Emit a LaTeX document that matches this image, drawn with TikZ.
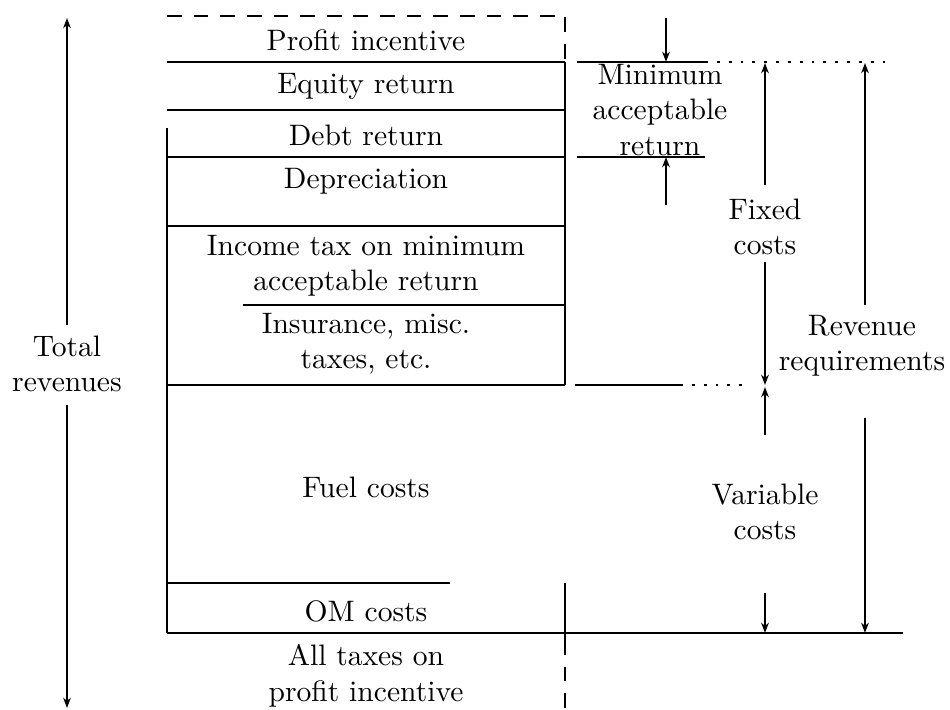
\documentclass[tikz,border=0pt]{standalone}
\usetikzlibrary{arrows.meta}
\begin{document}
\begin{tikzpicture}[x=0.338pt,y=-0.338pt,
  ln/.style={line width=0.5pt},
  dsh/.style={line width=0.5pt,dash pattern=on 5pt off 4pt},
  dtt/.style={line width=0.5pt,dash pattern=on 1pt off 3pt},
  arr/.style={line width=0.5pt,-{Stealth[length=3.5pt,width=2.6pt]}},
  lbl/.style={align=center,inner sep=0pt}]
\useasboundingbox (0,0) rectangle (950,710);
% box coordinates
\coordinate (dTL) at (167,16);  \coordinate (dTR) at (565,16);
\coordinate (a1) at (167,62);   \coordinate (b1) at (565,62);
\coordinate (a2) at (167,110);  \coordinate (b2) at (565,110);
\coordinate (a3) at (167,157);  \coordinate (b3) at (565,157);
\coordinate (a4) at (167,226);  \coordinate (b4) at (565,226);
\coordinate (a5) at (243,305);  \coordinate (b5) at (565,305);
\coordinate (a6) at (167,385);  \coordinate (b6) at (565,385);
\coordinate (a7) at (167,583);  \coordinate (b7) at (450,583);
\coordinate (a8) at (167,633);  \coordinate (b8) at (903,633);
\coordinate (lTop) at (167,128);
\coordinate (rOM) at (565,583); \coordinate (rOMb) at (565,640);
\coordinate (rBot) at (565,710);
% dashed profit incentive box
\draw[dsh] (dTL) -- (dTR) -- (b1);
% horizontal lines
\draw[ln] (a1) -- (b1);
\draw[ln] (a2) -- (b2);
\draw[ln] (a3) -- (b3);
\draw[ln] (a4) -- (b4);
\draw[ln] (a5) -- (b5);
\draw[ln] (a6) -- (b6);
\draw[ln] (a7) -- (b7);
\draw[ln] (a8) -- (b8);
% verticals
\draw[ln] (lTop) -- (a8);
\draw[ln] (b1) -- (b6);
\draw[ln] (rOM) -- (rOMb);
\draw[dsh] (rOMb) -- (rBot);
% right extension lines
\coordinate (m1a) at (577,62);  \coordinate (m1b) at (705,62);  \coordinate (m1c) at (890,62);
\coordinate (m3a) at (577,157); \coordinate (m3b) at (705,157);
\coordinate (m6a) at (575,385); \coordinate (m6b) at (680,385); \coordinate (m6c) at (745,385);
\draw[ln] (m1a) -- (m1b);
\draw[dtt] (m1b) -- (m1c);
\draw[ln] (m3a) -- (m3b);
\draw[ln] (m6a) -- (m6b);
\draw[dtt] (m6b) -- (m6c);
% labels in box
\node[lbl] (pi) at (366,40) {Profit incentive};
\node[lbl] (er) at (366,86) {Equity return};
\node[lbl] (dr) at (366,135) {Debt return};
\node[lbl] (dp) at (366,181) {Depreciation};
\node[lbl] (it) at (366,266) {Income tax on minimum\\acceptable return};
\node[lbl] (in) at (366,344) {Insurance, misc.\\taxes, etc.};
\node[lbl] (fc) at (366,487) {Fuel costs};
\node[lbl] (om) at (366,611) {OM costs};
\node[lbl] (at) at (366,676) {All taxes on\\profit incentive};
% right labels
\node[lbl] (mar) at (660,110) {Minimum\\acceptable\\return};
\node[lbl] (fx) at (765,227) {Fixed\\costs};
\node[lbl] (vc) at (765,512) {Variable\\costs};
\node[lbl] (rr) at (862,346) {Revenue\\requirements};
\node[lbl] (tr) at (67,364) {Total\\revenues};
% arrows
\coordinate (mA) at (666,18);  \coordinate (mAe) at (666,62);
\coordinate (mB) at (666,205); \coordinate (mBe) at (666,157);
\draw[arr] (mA) -- (mAe);
\draw[arr] (mB) -- (mBe);
\coordinate (fA) at (765,185); \coordinate (fAe) at (765,63);
\coordinate (fB) at (765,262); \coordinate (fBe) at (765,385);
\draw[arr] (fA) -- (fAe);
\draw[arr] (fB) -- (fBe);
\coordinate (vA) at (765,435); \coordinate (vAe) at (765,387);
\coordinate (vB) at (765,593); \coordinate (vBe) at (765,633);
\draw[arr] (vA) -- (vAe);
\draw[arr] (vB) -- (vBe);
\coordinate (rA) at (865,305); \coordinate (rAe) at (865,63);
\coordinate (rB) at (865,418); \coordinate (rBe) at (865,633);
\draw[arr] (rA) -- (rAe);
\draw[arr] (rB) -- (rBe);
\coordinate (tA) at (67,325); \coordinate (tAe) at (67,18);
\coordinate (tB) at (67,405); \coordinate (tBe) at (67,708);
\draw[arr] (tA) -- (tAe);
\draw[arr] (tB) -- (tBe);
\end{tikzpicture}
\end{document}
